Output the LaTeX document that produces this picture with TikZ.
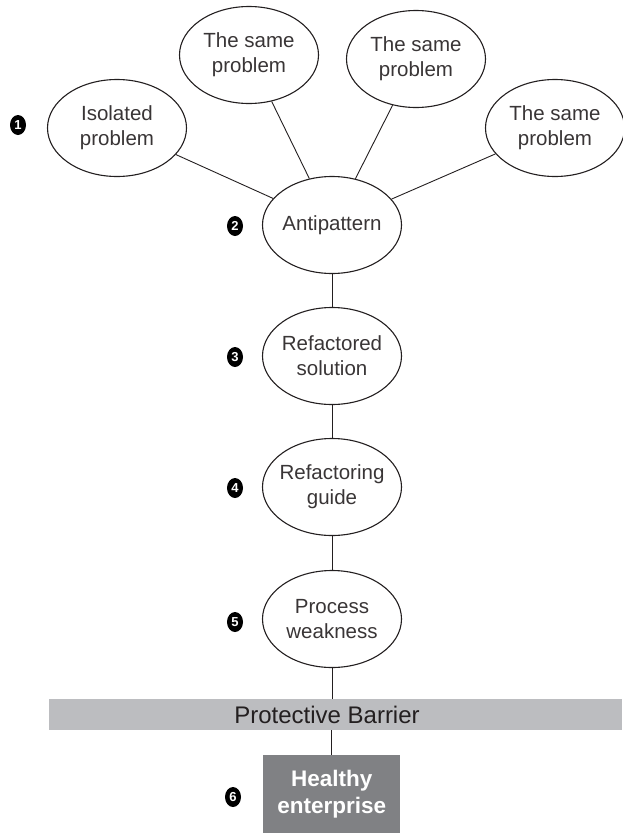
\documentclass[tikz,border=0pt]{standalone}
\usepackage{fontspec}
\setmainfont{Liberation Sans}
\usetikzlibrary{shapes.geometric}
\definecolor{ink}{HTML}{231F20}
\definecolor{barfill}{HTML}{BCBDC0}
\definecolor{boxfill}{HTML}{808184}
\tikzset{
  idea/.style={ellipse, draw=ink, line width=1.1pt, minimum width=139pt, minimum height=97pt,
    inner xsep=-10pt, inner ysep=-10pt, align=center, text=ink!90, font=\fontsize{20.5}{25}\selectfont},
  badge/.style={ellipse, fill=black, text=white, minimum width=16pt, minimum height=20pt,
    inner sep=0pt, font=\bfseries\fontsize{13}{13}\selectfont},
  link/.style={draw=ink, line width=0.9pt}
}
\begin{document}
\begin{tikzpicture}[x=1pt,y=-1pt]
\useasboundingbox (0,0) rectangle (622,833);
% ellipses
\node[idea] (iso) at (117,128) {Isolated\\problem};
\node[idea] (s1) at (249,55) {The same\\problem};
\node[idea] (s2) at (416,59) {The same\\problem};
\node[idea] (s3) at (555,128) {The same\\problem};
\node[idea] (anti) at (332,225) {Antipattern};
\node[idea] (ref) at (332,356) {Refactored\\solution};
\node[idea] (guide) at (332,487) {Refactoring\\guide};
\node[idea] (proc) at (332,619) {Process\\weakness};
% barrier
\node[fill=barfill, minimum width=573pt, minimum height=31pt, inner sep=0pt, anchor=north west] (bar) at (49,699) {};
\node[text=ink, font=\fontsize{24}{26}\selectfont] (bartext) at (327,715) {Protective Barrier};
% healthy box
\node[fill=boxfill, minimum width=137pt, minimum height=78pt, inner sep=0pt, anchor=north west,
  text=white, align=center, font=\bfseries\fontsize{22.5}{27}\selectfont] (health) at (263,755) {Healthy\\enterprise};
% badges
\node[badge] (n1) at (18,125) {1};
\node[badge] (n2) at (235,226) {2};
\node[badge] (n3) at (235,357) {3};
\node[badge] (n4) at (235,488) {4};
\node[badge] (n5) at (235,622) {5};
\node[badge] (n6) at (233,797) {6};
% connectors
\draw[link] (iso) -- (anti);
\draw[link] (s1) -- (anti);
\draw[link] (s2) -- (anti);
\draw[link] (s3) -- (anti);
\draw[link] (anti.south) -- (ref.north);
\draw[link] (ref.south) -- (guide.north);
\draw[link] (guide.south) -- (proc.north);
\draw[link] (proc.south) -- (proc.south |- bar.north);
\draw[link] (health.north |- bar.south) -- (health.north);
\end{tikzpicture}
\end{document}
